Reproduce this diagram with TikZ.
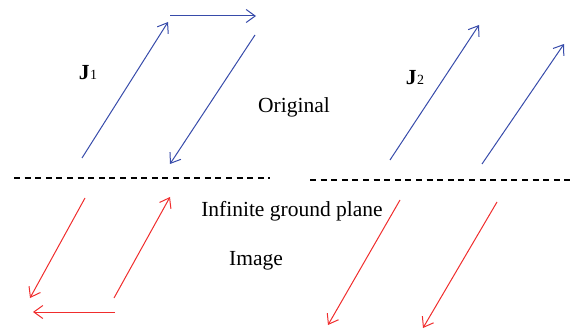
\documentclass[tikz,border=0pt]{standalone}
\usepackage{fontspec}
\setmainfont{Liberation Serif}
\usetikzlibrary{arrows.meta}
\definecolor{jblue}{RGB}{55,75,170}
\definecolor{jred}{RGB}{240,45,45}
\tikzset{
  cur/.style={line width=1pt,-{Straight Barb[length=9pt,width=13pt,line width=1pt]}},
  orig/.style={cur,draw=jblue},
  img/.style={cur,draw=jred},
  plane/.style={line width=1.3pt,dash pattern=on 6pt off 4.6pt,black},
  lbl/.style={font=\fontsize{21.5}{24}\selectfont,inner sep=0pt}
}
\begin{document}
\begin{tikzpicture}[x=1pt,y=-1pt]
\useasboundingbox (0,0) rectangle (574,329);
% original J1 loop
\coordinate (a1) at (82,158); \coordinate (a2) at (168,22);
\coordinate (b1) at (170,16); \coordinate (b2) at (256,16);
\coordinate (c1) at (255,35); \coordinate (c2) at (170,164);
\draw[orig] (a1) -- (a2);
\draw[orig] (b1) -- (b2);
\draw[orig] (c1) -- (c2);
% original J2
\coordinate (d1) at (390,160); \coordinate (d2) at (479,25);
\coordinate (e1) at (482,164); \coordinate (e2) at (564,44);
\draw[orig] (d1) -- (d2);
\draw[orig] (e1) -- (e2);
% ground plane
\coordinate (p1) at (14,178); \coordinate (p2) at (270,178);
\coordinate (q1) at (310,180); \coordinate (q2) at (574,180);
\draw[plane] (p1) -- (p2);
\draw[plane] (q1) -- (q2);
% image J1
\coordinate (f1) at (85,198); \coordinate (f2) at (30,298);
\coordinate (g1) at (114,298); \coordinate (g2) at (170,197);
\coordinate (h1) at (115,312); \coordinate (h2) at (33,312);
\draw[img] (f1) -- (f2);
\draw[img] (g1) -- (g2);
\draw[img] (h1) -- (h2);
% image J2
\coordinate (i1) at (400,200); \coordinate (i2) at (328,325);
\coordinate (k1) at (497,202); \coordinate (k2) at (423,328);
\draw[img] (i1) -- (i2);
\draw[img] (k1) -- (k2);
% labels
\node[lbl] (j1) at (88,73) {\textbf{J}\kern0.5pt{\fontsize{14}{16}\selectfont 1}};
\node[lbl] (j2) at (415,78) {\textbf{J}\kern0.5pt{\fontsize{14}{16}\selectfont 2}};
\node[lbl] (orig) at (294,107) {Original};
\node[lbl] (gp) at (292,211) {Infinite ground plane};
\node[lbl] (im) at (256,261) {Image};
\end{tikzpicture}
\end{document}
